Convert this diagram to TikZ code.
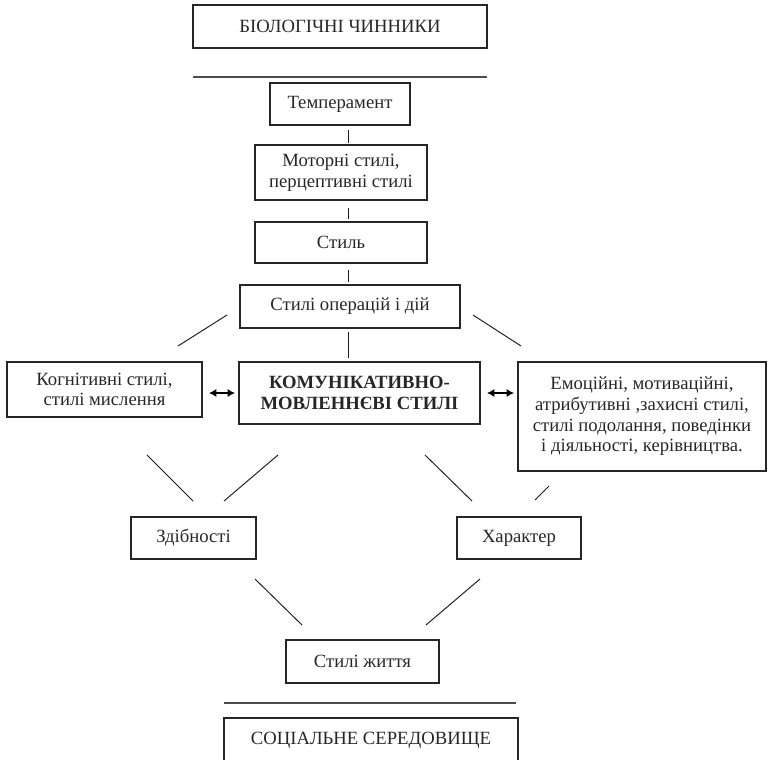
\documentclass[tikz,border=0pt]{standalone}
\usepackage{fontspec}
\setmainfont{Liberation Serif}
\usetikzlibrary{arrows.meta}
\begin{document}
\begin{tikzpicture}[x=0.75pt,y=-0.75pt,
  box/.style={draw=black!85,line width=0.8pt,inner sep=0pt,align=center,
    font=\fontsize{14pt}{15.5pt}\selectfont,text=black!85},
  seg/.style={line width=0.7pt,draw=black!90},
  sep/.style={line width=1.2pt,draw=black!70},
  dbl/.style={line width=0.9pt,{Latex[length=5.5pt,width=6pt]}-{Latex[length=5.5pt,width=6pt]}}]
\useasboundingbox (0,0) rectangle (768,760);
\clip (0,0) rectangle (768,760);
% boxes
\node[box,minimum width=220.5pt,minimum height=32.25pt] (bio) at (340,26.5) {БІОЛОГІЧНІ ЧИННИКИ};
\node[box,minimum width=105pt,minimum height=31.5pt] (temp) at (340,104) {Темперамент};
\node[box,minimum width=129pt,minimum height=41.25pt] (motor) at (341,172.5) {Моторні стилі,\\перцептивні стилі};
\node[box,minimum width=129pt,minimum height=30.75pt] (styl) at (341,242.5) {Стиль};
\node[box,minimum width=165pt,minimum height=32.25pt] (oper) at (350,306.5) {Стилі операцій і дій};
\node[box,minimum width=180.75pt,minimum height=46.5pt,font=\fontsize{14pt}{15.5pt}\selectfont\bfseries] (comm) at (359.5,393) {КОМУНІКАТИВНО-\\МОВЛЕННЄВІ СТИЛІ};
\node[box,minimum width=146.25pt,minimum height=41.25pt] (cogn) at (104.5,389.5) {Когнітивні стилі,\\стилі мислення};
\node[box,minimum width=186pt,minimum height=81.75pt] (emo) at (642,416.5) {Емоційні, мотиваційні,\\атрибутивні ,захисні стилі,\\стилі подолання, поведінки\\і діяльності, керівництва.};
\node[box,minimum width=93.75pt,minimum height=31.5pt] (zdib) at (193.5,538) {Здібності};
\node[box,minimum width=93pt,minimum height=31.5pt] (char) at (519,538) {Характер};
\node[box,minimum width=114.75pt,minimum height=32.25pt] (life) at (362.5,661.5) {Стилі життя};
\node[box,minimum width=220.5pt,minimum height=33pt] (soc) at (371,740) {СОЦІАЛЬНЕ СЕРЕДОВИЩЕ};
% segment end points
\coordinate (s1a) at (193,77); \coordinate (s1b) at (487,77);
\coordinate (s2a) at (224,703); \coordinate (s2b) at (516,703);
\coordinate (v1a) at (348,130); \coordinate (v1b) at (348,143);
\coordinate (v2a) at (348,208); \coordinate (v2b) at (348,219);
\coordinate (v3a) at (348,270); \coordinate (v3b) at (348,282);
\coordinate (v4a) at (348,332); \coordinate (v4b) at (348,358);
\coordinate (d1a) at (227,315); \coordinate (d1b) at (178,346);
\coordinate (d2a) at (473,315); \coordinate (d2b) at (521,346);
\coordinate (d3a) at (147,455); \coordinate (d3b) at (193,501);
\coordinate (d4a) at (278,455); \coordinate (d4b) at (224,501);
\coordinate (d5a) at (425,455); \coordinate (d5b) at (472,501);
\coordinate (d6a) at (549,486); \coordinate (d6b) at (535,500);
\coordinate (d7a) at (255,579); \coordinate (d7b) at (302,625);
\coordinate (d8a) at (480,579); \coordinate (d8b) at (426,625);
\coordinate (a1a) at (209,393); \coordinate (a1b) at (235,393);
\coordinate (a2a) at (487,393); \coordinate (a2b) at (514,393);
% separators
\draw[sep] (s1a) -- (s1b);
\draw[sep] (s2a) -- (s2b);
% vertical links
\draw[seg] (v1a) -- (v1b);
\draw[seg] (v2a) -- (v2b);
\draw[seg] (v3a) -- (v3b);
\draw[seg] (v4a) -- (v4b);
% diagonals
\draw[seg] (d1a) -- (d1b);
\draw[seg] (d2a) -- (d2b);
\draw[seg] (d3a) -- (d3b);
\draw[seg] (d4a) -- (d4b);
\draw[seg] (d5a) -- (d5b);
\draw[seg] (d6a) -- (d6b);
\draw[seg] (d7a) -- (d7b);
\draw[seg] (d8a) -- (d8b);
% double arrows
\draw[dbl] (a1a) -- (a1b);
\draw[dbl] (a2a) -- (a2b);
\end{tikzpicture}
\end{document}
